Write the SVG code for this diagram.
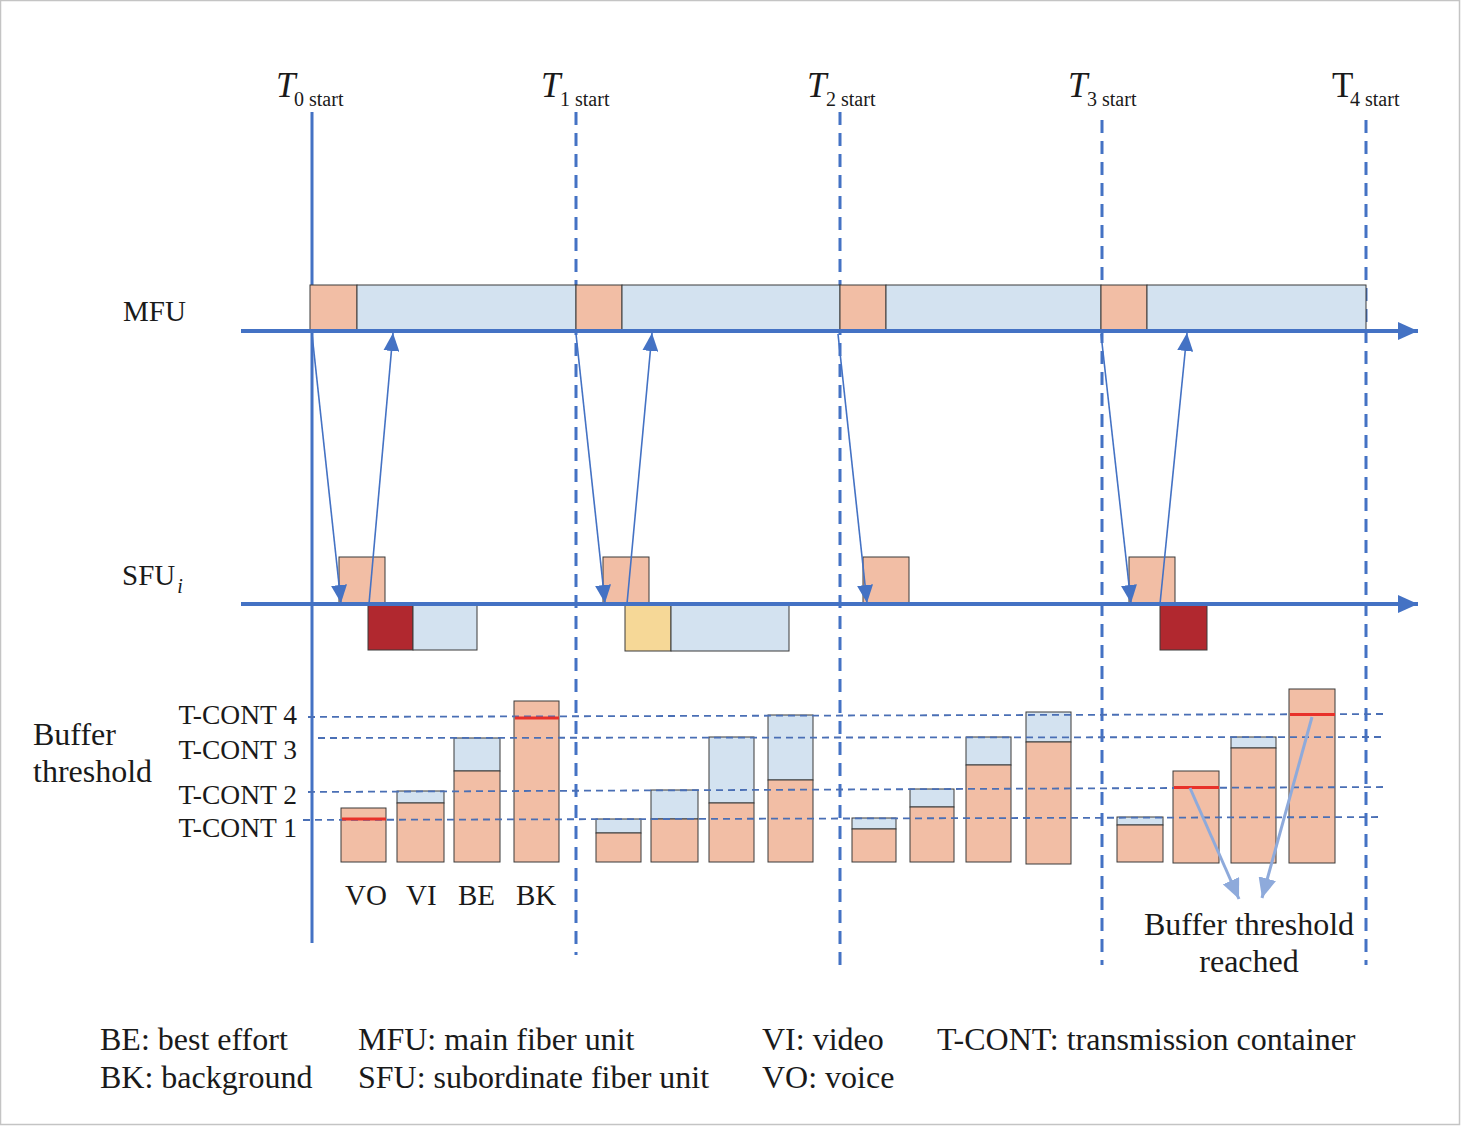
<svg xmlns="http://www.w3.org/2000/svg" width="1461" height="1126" viewBox="0 0 1461 1126">
<defs>
<style>
text{font-family:"Liberation Serif","DejaVu Serif",serif;fill:#1a1a1a}
.lbl{font-size:29px}
.big{font-size:32px}
.tc{font-size:27.5px}
.leg{font-size:32px}
.T{font-size:35px;font-style:italic}
.Tn{font-size:35px}
.sub{font-size:20px}
.or{fill:#f2bea5;stroke:#3a3a3a;stroke-width:1}
.bl{fill:#d3e2f0;stroke:#3a3a3a;stroke-width:1}
.rd{fill:#b1282f;stroke:#3a3a3a;stroke-width:1}
.ye{fill:#f6d897;stroke:#3a3a3a;stroke-width:1}
.ax{stroke:#4472c4;stroke-width:4;fill:none}
.vs{stroke:#4472c4;stroke-width:3;fill:none}
.vd{stroke:#4472c4;stroke-width:3;fill:none;stroke-dasharray:13 8}
.hd{stroke:#4a6fb5;stroke-width:1.8;fill:none;stroke-dasharray:7 5}
.ar{stroke:#4472c4;stroke-width:1.6;fill:none;marker-end:url(#ah)}
.al{stroke:#8eaadb;stroke-width:3;fill:none;marker-end:url(#ahl)}
.th{stroke:#e8312a;stroke-width:3}
</style>
<marker id="ah" viewBox="0 0 18 16" refX="18" refY="8" markerWidth="18" markerHeight="16" markerUnits="userSpaceOnUse" orient="auto"><path d="M0,0 L18,8 L0,16 z" fill="#4472c4"/></marker>
<marker id="ahl" viewBox="0 0 20 18" refX="20" refY="9" markerWidth="20" markerHeight="18" markerUnits="userSpaceOnUse" orient="auto"><path d="M0,0 L20,9 L0,18 z" fill="#8eaadb"/></marker>
<marker id="axh" viewBox="0 0 20 18" refX="20" refY="9" markerWidth="20" markerHeight="18" markerUnits="userSpaceOnUse" orient="auto"><path d="M0,0 L20,9 L0,18 z" fill="#4472c4"/></marker>
</defs>
<rect x="0.5" y="0.5" width="1459" height="1124" fill="#ffffff" stroke="#c4c4c4" stroke-width="1.5"/>

<g id="time-labels">
<text class="T" x="276" y="97">T</text><text class="sub" x="294" y="106">0 start</text>
<text class="T" x="541" y="97">T</text><text class="sub" x="560" y="106">1 start</text>
<text class="T" x="807" y="97">T</text><text class="sub" x="826" y="106">2 start</text>
<text class="T" x="1068" y="97">T</text><text class="sub" x="1087" y="106">3 start</text>
<text class="Tn" x="1332" y="97">T</text><text class="sub" x="1350" y="106">4 start</text>
</g>

<g id="time-lines">
<line class="vs" x1="312" y1="112" x2="312" y2="943"/>
<line class="vd" x1="576" y1="112" x2="576" y2="955"/>
<line class="vd" x1="840" y1="112" x2="840" y2="965"/>
<line class="vd" x1="1102" y1="120" x2="1102" y2="965"/>
<line class="vd" x1="1366" y1="120" x2="1366" y2="965"/>
</g>

<g id="mfu">
<text class="lbl" x="123" y="321">MFU</text>
<rect class="or" x="310" y="285" width="47" height="46"/>
<rect class="bl" x="357" y="285" width="219" height="46"/>
<rect class="or" x="576" y="285" width="46" height="46"/>
<rect class="bl" x="622" y="285" width="218" height="46"/>
<rect class="or" x="840" y="285" width="46" height="46"/>
<rect class="bl" x="886" y="285" width="215" height="46"/>
<rect class="or" x="1101" y="285" width="46" height="46"/>
<rect class="bl" x="1147" y="285" width="219" height="46"/>
</g>

<g id="sfu">
<text class="lbl" x="122" y="585">SFU<tspan class="sub" font-style="italic" dx="2" dy="8">i</tspan></text>
<rect class="or" x="339" y="557" width="46" height="46"/>
<rect class="or" x="603" y="557" width="46" height="46"/>
<rect class="or" x="863" y="557" width="46" height="46"/>
<rect class="or" x="1129" y="557" width="46" height="46"/>
<rect class="rd" x="368" y="605" width="45" height="45"/>
<rect class="bl" x="413" y="605" width="64" height="45"/>
<rect class="ye" x="625" y="605" width="46" height="46"/>
<rect class="bl" x="671" y="605" width="118" height="46"/>
<rect class="rd" x="1160" y="605" width="47" height="45"/>
</g>

<g id="axes">
<line class="ax" x1="241" y1="331" x2="1418" y2="331" marker-end="url(#axh)"/>
<line class="ax" x1="241" y1="604" x2="1418" y2="604" marker-end="url(#axh)"/>
</g>

<g id="connectors">
<line class="ar" x1="312" y1="334" x2="341" y2="603"/>
<line class="ar" x1="369" y1="604" x2="393" y2="333"/>
<line class="ar" x1="576" y1="334" x2="605" y2="603"/>
<line class="ar" x1="627" y1="604" x2="652" y2="333"/>
<line class="ar" x1="838" y1="334" x2="867" y2="603"/>
<line class="ar" x1="1101" y1="334" x2="1131" y2="603"/>
<line class="ar" x1="1160" y1="604" x2="1187" y2="333"/>
</g>

<g id="buffer-label">
<text class="big" x="33" y="745">Buffer</text>
<text class="big" x="33" y="782">threshold</text>
<text class="tc" x="297" y="724" text-anchor="end">T-CONT 4</text>
<text class="tc" x="297" y="759" text-anchor="end">T-CONT 3</text>
<text class="tc" x="297" y="804" text-anchor="end">T-CONT 2</text>
<text class="tc" x="297" y="837" text-anchor="end">T-CONT 1</text>
</g>

<g id="bars-t0">
<rect class="or" x="341" y="808" width="45" height="54"/>
<rect class="bl" x="397" y="791" width="47" height="12"/>
<rect class="or" x="397" y="803" width="47" height="59"/>
<rect class="bl" x="454" y="738" width="46" height="33"/>
<rect class="or" x="454" y="771" width="46" height="91"/>
<rect class="or" x="514" y="701" width="45" height="161"/>
<text class="lbl" x="345" y="905">VO</text>
<text class="lbl" x="406" y="905">VI</text>
<text class="lbl" x="458" y="905">BE</text>
<text class="lbl" x="516" y="905">BK</text>
</g>

<g id="bars-t1">
<rect class="bl" x="596" y="819" width="45" height="14"/>
<rect class="or" x="596" y="833" width="45" height="29"/>
<rect class="bl" x="651" y="790" width="47" height="29"/>
<rect class="or" x="651" y="819" width="47" height="43"/>
<rect class="bl" x="709" y="737" width="45" height="66"/>
<rect class="or" x="709" y="803" width="45" height="59"/>
<rect class="bl" x="768" y="715" width="45" height="65"/>
<rect class="or" x="768" y="780" width="45" height="82"/>
</g>

<g id="bars-t2">
<rect class="bl" x="852" y="818" width="44" height="11"/>
<rect class="or" x="852" y="829" width="44" height="33"/>
<rect class="bl" x="910" y="789" width="44" height="18"/>
<rect class="or" x="910" y="807" width="44" height="55"/>
<rect class="bl" x="966" y="737" width="45" height="28"/>
<rect class="or" x="966" y="765" width="45" height="97"/>
<rect class="bl" x="1026" y="712" width="45" height="30"/>
<rect class="or" x="1026" y="742" width="45" height="122"/>
</g>

<g id="bars-t3">
<rect class="bl" x="1117" y="817" width="46" height="8"/>
<rect class="or" x="1117" y="825" width="46" height="37"/>
<rect class="or" x="1173" y="771" width="46" height="92"/>
<rect class="bl" x="1231" y="737" width="45" height="11"/>
<rect class="or" x="1231" y="748" width="45" height="115"/>
<rect class="or" x="1289" y="689" width="46" height="174"/>
</g>

<g id="thresholds">
<line class="hd" x1="308" y1="717" x2="1384" y2="714"/>
<line class="hd" x1="318" y1="738" x2="1384" y2="737"/>
<line class="hd" x1="308" y1="792" x2="1384" y2="787"/>
<line class="hd" x1="303" y1="820" x2="1382" y2="817"/>
</g>

<g id="threshold-marks">
<line class="th" x1="342" y1="819" x2="386" y2="819"/>
<line class="th" x1="515" y1="718" x2="559" y2="718"/>
<line class="th" x1="1174" y1="787.5" x2="1219" y2="787.5"/>
<line class="th" x1="1290" y1="714.5" x2="1335" y2="714.5"/>
</g>

<g id="reached">
<line class="al" x1="1190" y1="788" x2="1239" y2="899"/>
<line class="al" x1="1312" y1="717" x2="1262" y2="898"/>
<text class="leg" x="1249" y="935" text-anchor="middle">Buffer threshold</text>
<text class="leg" x="1249" y="972" text-anchor="middle">reached</text>
</g>

<g id="legend">
<text class="leg" x="100" y="1050">BE: best effort</text>
<text class="leg" x="100" y="1088">BK: background</text>
<text class="leg" x="358" y="1050">MFU: main fiber unit</text>
<text class="leg" x="358" y="1088">SFU: subordinate fiber unit</text>
<text class="leg" x="762" y="1050">VI: video</text>
<text class="leg" x="762" y="1088">VO: voice</text>
<text class="leg" x="937" y="1050">T-CONT: transmission container</text>
</g>
</svg>
